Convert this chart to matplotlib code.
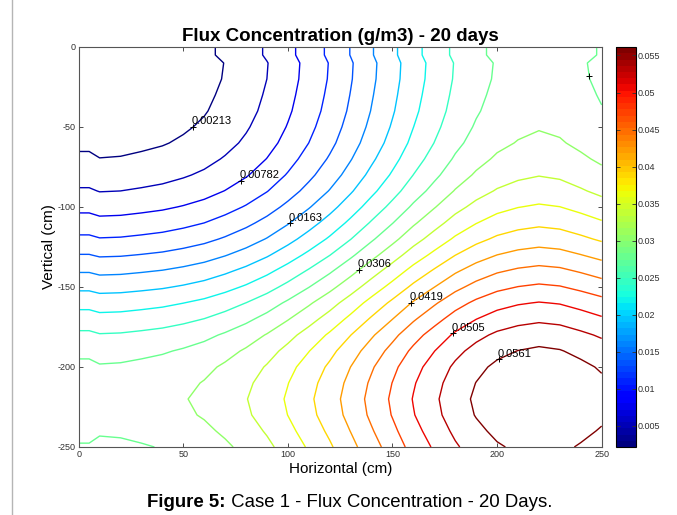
import numpy as np
import matplotlib
matplotlib.use("Agg")
import matplotlib.pyplot as plt
from matplotlib.colors import Normalize
from matplotlib.cm import ScalarMappable
from matplotlib.lines import Line2D

plt.rcParams["font.family"] = ["Liberation Sans", "DejaVu Sans"]
plt.rcParams["axes.unicode_minus"] = False

# ── Data ──────────────────────────────────────────────────────────────────────
# grid nodes (cm) along both directions, finer step at the boundary
nodes = [0, 5, 10, 20, 30, 40, 50, 60, 70, 80, 90, 100, 110, 120, 130,
         140, 150, 160, 170, 180, 190, 200, 210, 220, 230, 240, 250]
# concentration profile (g/m3) at the nodes; field = profile(x) + profile(depth)
profile = [0.0, 0.0, -0.0004, -0.0003, 0.0, 0.00035, 0.0009, 0.0016, 0.0026,
           0.0038, 0.00528, 0.00708, 0.00907, 0.01121, 0.0136, 0.01612,
           0.01858, 0.02111, 0.02332, 0.02545, 0.0271, 0.02835, 0.0291,
           0.0295, 0.0292, 0.0284, 0.0275]

levels = [0.002130, 0.004973, 0.007816, 0.010659, 0.013502, 0.016345,
          0.019188, 0.022031, 0.024874, 0.027717, 0.030560, 0.033403,
          0.036246, 0.039089, 0.041932, 0.044775, 0.047618, 0.050461,
          0.053304, 0.056147]

# contour labels: level index and where along the line to put it
label_levels = [0, 2, 5, 10, 14, 17, 19]
label_spots = [(55, -50), (78, -84), (101, -110), (134, -139),
               (159, -160), (179, -179), (200, -194)]
# a label marker whose text falls outside the axes
bare_level = 9
bare_spot = (245, -18)

cbar_ticks = [0.005, 0.01, 0.015, 0.02, 0.025, 0.03, 0.035, 0.04, 0.045,
              0.05, 0.055]
x_ticks = [0, 50, 100, 150, 200, 250]
y_ticks = [0, -50, -100, -150, -200, -250]

AXIS_COLOR = "#303030"


def nearest_on_contour(segs, spot):
    """Closest point to `spot` on a list of contour polylines."""
    p = np.asarray(spot, dtype=float)
    best, best_d = None, np.inf
    for seg in segs:
        a, b = seg[:-1], seg[1:]
        ab = b - a
        denom = (ab ** 2).sum(axis=1)
        denom[denom == 0] = 1.0
        t = np.clip(((p - a) * ab).sum(axis=1) / denom, 0, 1)
        proj = a + ab * t[:, None]
        d = ((proj - p) ** 2).sum(axis=1)
        i = np.argmin(d)
        if d[i] < best_d:
            best_d, best = d[i], proj[i]
    return best


fig = plt.figure(figsize=(6.77, 5.15), dpi=100)
ax = fig.add_axes([78.7 / 677, 68 / 515, 523 / 677, 400 / 515])
cax = fig.add_axes([616 / 677, 68 / 515, 20 / 677, 400 / 515])

xg = np.array(nodes, dtype=float)
yg = -np.array(nodes, dtype=float)
prof = np.array(profile)
Z = np.add.outer(prof, prof)          # rows: depth, cols: horizontal
X, Y = np.meshgrid(xg, yg)

cmap = plt.get_cmap("jet", 64)
norm = Normalize(vmin=levels[0], vmax=levels[-1])

cs = ax.contour(X, Y, Z, levels=levels, cmap=cmap, norm=norm, linewidths=1.0)

for li, spot in zip(label_levels, label_spots):
    px, py = nearest_on_contour(cs.allsegs[li], spot)
    ax.plot(px, py, "+", color="black", ms=4.5, mew=0.7, zorder=5)
    ax.annotate(f"{levels[li]:.3g}", (px, py), xytext=(-1, 0.3),
                textcoords="offset points", ha="left", va="bottom",
                fontsize=8, color="black", zorder=6)

px, py = nearest_on_contour(cs.allsegs[bare_level], bare_spot)
ax.plot(px, py, "+", color="black", ms=4.5, mew=0.7, zorder=5)

ax.set_xlim(0, 250)
ax.set_ylim(-250, 0)
ax.set_xticks(x_ticks)
ax.set_yticks(y_ticks)
ax.tick_params(direction="in", length=3, width=0.6, labelsize=6.5,
               colors=AXIS_COLOR, top=True, right=True, pad=2.5)
for sp in ax.spines.values():
    sp.set_color("#555555")
    sp.set_linewidth(0.8)

ax.set_title("Flux Concentration (g/m3) - 20 days", fontsize=13.5,
             fontweight="bold", pad=4)
ax.set_xlabel("Horizontal (cm)", fontsize=11, labelpad=2)
ax.set_ylabel("Vertical (cm)", fontsize=11, labelpad=1)

# colour bar
sm = ScalarMappable(norm=norm, cmap=cmap)
cb = fig.colorbar(sm, cax=cax, ticks=cbar_ticks)
cb.ax.set_yticklabels([f"{t:g}" for t in cbar_ticks])
cb.ax.yaxis.set_ticks_position("both")
cb.ax.yaxis.set_label_position("right")
cb.ax.tick_params(direction="in", length=3, width=0.6, labelsize=6.5,
                  colors=AXIS_COLOR, pad=1.5, labelleft=False,
                  labelright=True)
cb.outline.set_linewidth(0.8)
cb.outline.set_edgecolor("black")

# frame line on the left of the page
fig.add_artist(Line2D([12 / 677, 12 / 677], [0, 1], color="#b5b5b5", lw=1.0))

# caption: bold prefix + regular text
fig.canvas.draw()
t1 = fig.text(147 / 677, 8 / 515, "Figure 5:", fontsize=13.4,
              fontweight="bold", ha="left", va="baseline")
fig.canvas.draw()
w1 = t1.get_window_extent().width / fig.bbox.width
fig.text(147 / 677 + w1, 8 / 515, " Case 1 - Flux Concentration - 20 Days.",
         fontsize=13.4, ha="left", va="baseline")

fig.savefig("out.png", dpi=100)
